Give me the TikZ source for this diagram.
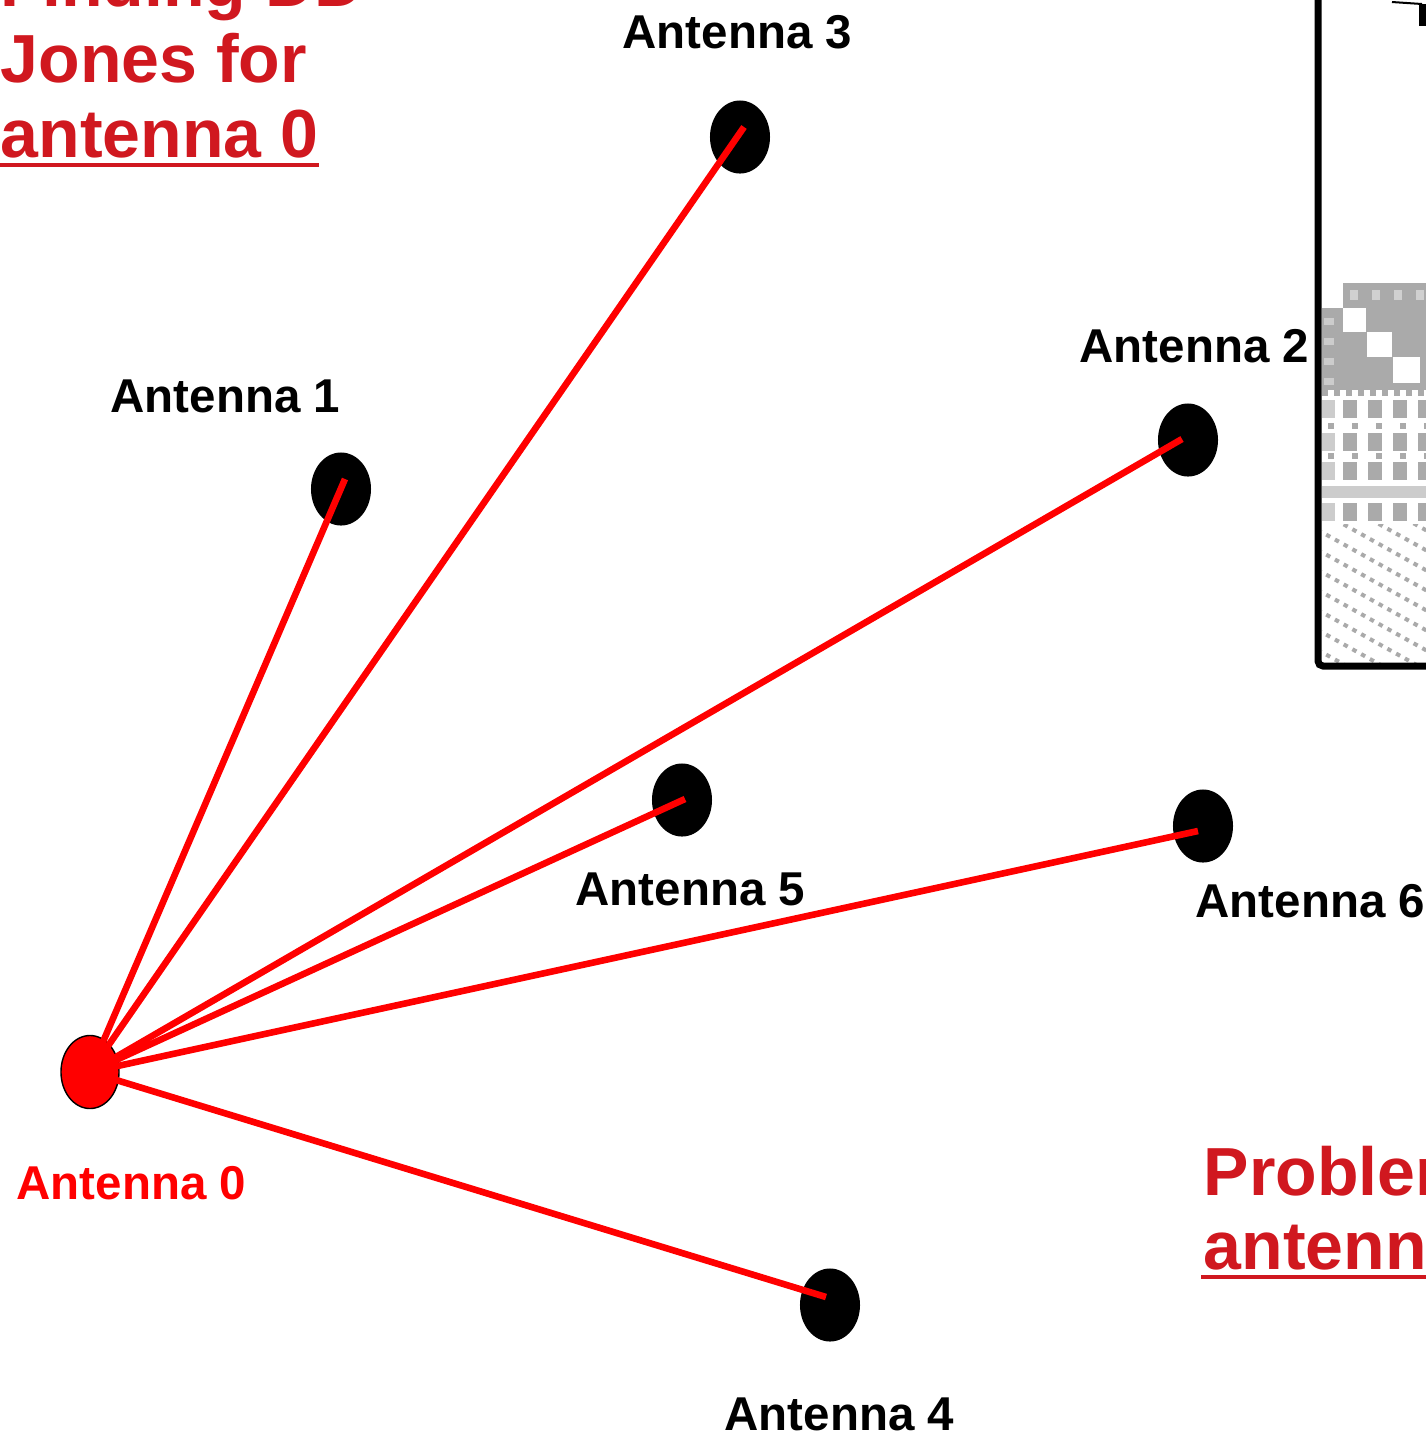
\documentclass[tikz,border=0pt]{standalone}
\usepackage{fontspec}
\setmainfont{Liberation Sans}
\usetikzlibrary{calc,shapes.geometric}
\definecolor{titlered}{HTML}{D0181F}
\definecolor{matgray}{HTML}{AAAAAA}
\begin{document}
\begin{tikzpicture}[x=0.01cm,y=-0.01cm,
  ant/.style={ellipse, fill=black, minimum width=0.6cm, minimum height=0.73cm, inner sep=0pt},
  refant/.style={ellipse, fill=red, draw=black, line width=0.4pt, minimum width=0.58cm, minimum height=0.73cm, inner sep=0pt},
  lbl/.style={font=\fontsize{13.5}{16}\selectfont\bfseries, anchor=base west, inner sep=0pt},
  link/.style={draw=red, line width=0.066cm},
  heading/.style={font=\fontsize{19.35}{22}\selectfont\bfseries, text=titlered, anchor=base west, inner sep=0pt},
  uline/.style={draw=titlered, line width=0.045cm}
]
\useasboundingbox (0,0) rectangle (1426,1435);
\begin{scope}
\clip (0,0) rectangle (1426,1435);

% headings
\node[heading] (t1) at (0,6) {Finding DD};
\node[heading] (t2) at (0,82) {Jones for};
\node[heading] (t3) at (0,157) {antenna 0};
\draw[uline] ($(t3.base west)+(0,8)$) -- ($(t3.base east)+(0,8)$);

\node[heading] (p1) at (1203,1195) {Problem};
\node[heading] (p2) at (1203,1269) {antenna};
\draw[uline] ($(p2.base west)+(-2,8)$) -- ($(p2.base east)+(0,8)$);

% matrix image at the right
\begin{scope}
\clip (1322,-10) rectangle (1430,662);
\fill[matgray] (1343,283) rectangle (1430,308);
\foreach \x in {1350,1372,1394,1416} \fill[matgray!55] (\x,290) rectangle ++(8,10);
\fill[matgray] (1322,308) rectangle (1430,390);
\foreach \y in {318,338,358,378} \fill[matgray!60] (1324,\y) rectangle ++(10,7);
\fill[white] (1343,308) rectangle (1366,332);
\fill[white] (1367,332) rectangle (1392,357);
\fill[white] (1393,357) rectangle (1420,383);
\foreach \x in {1322,1334,...,1430} \fill[matgray] (\x,390) rectangle ++(6,6);
\foreach \y in {400,433,462,503} {
  \fill[matgray!60] (1322,\y) rectangle ++(13,18);
  \foreach \x in {1343,1368,1393,1418} \fill[matgray] (\x,\y) rectangle ++(14,18);
}
\foreach \x in {1328,1352,...,1430} {
  \fill[matgray] (\x,423) rectangle ++(6,6);
  \fill[matgray] (\x,453) rectangle ++(6,6);
}
\fill[matgray!60] (1322,486) rectangle (1430,498);
\begin{scope}
\clip (1322,524) rectangle (1430,662);
\foreach \k in {0,...,14}
  \draw[matgray, line width=0.04cm, dash pattern=on 0.045cm off 0.055cm] (1300,440+20*\k) -- ++(140,78);
\end{scope}
\end{scope}
\draw[line width=0.07cm, rounded corners=0.05cm] (1318,-20) -- (1318,666) -- (1440,666);
\fill (1419,4) rectangle (1426,26);
\draw[line width=0.02cm] (1392,2) -- (1422,4);

% antennas
\node[ant] (a1) at (341,489) {};
\node[ant] (a2) at (1188,440) {};
\node[ant] (a3) at (740,137) {};
\node[ant] (a4) at (830,1305) {};
\node[ant] (a5) at (682,800) {};
\node[ant] (a6) at (1203,826) {};
\node[refant] (a0) at (90,1072) {};

% labels
\node[lbl] (l1) at (110,412) {Antenna 1};
\node[lbl] (l2) at (1079,362) {Antenna 2};
\node[lbl] (l3) at (622,48) {Antenna 3};
\node[lbl] (l4) at (724,1430) {Antenna 4};
\node[lbl] (l5) at (575,905) {Antenna 5};
\node[lbl] (l6) at (1195,917) {Antenna 6};
\node[lbl, text=red] (l0) at (16,1199) {Antenna 0};

% baselines from the reference antenna
\draw[link] (a0.center) -- ($(a1.center)+(4,-10)$);
\draw[link] (a0.center) -- ($(a3.center)+(4,-10)$);
\draw[link] (a0.center) -- ($(a2.center)+(-6,-1)$);
\draw[link] (a0.center) -- ($(a5.center)+(3,-1)$);
\draw[link] (a0.center) -- ($(a6.center)+(-5,5)$);
\draw[link] (a0.center) -- ($(a4.center)+(-4,-8)$);
\end{scope}
\end{tikzpicture}
\end{document}
